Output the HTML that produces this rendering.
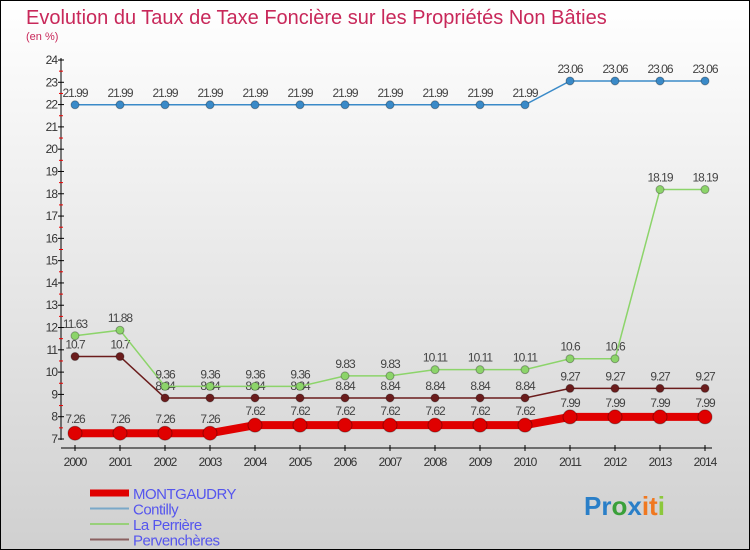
<!DOCTYPE html>
<html><head><meta charset="utf-8"><style>
body{margin:0}
#c{width:750px;height:550px;position:relative;box-sizing:border-box;border:1px solid #000;background:linear-gradient(#fff,#d0d0d0);font-family:"Liberation Sans",sans-serif;overflow:hidden}
</style></head><body>
<div id="c">
<svg id="s" width="750" height="550" style="position:absolute;left:-1px;top:-1px">
<text x="26" y="24" font-size="20" fill="#c8285a">Evolution du Taux de Taxe Foncière sur les Propriétés Non Bâties</text>
<text x="26" y="40" font-size="11" fill="#c8285a">(en %)</text>
<g id="axes"></g><g id="series"></g><g id="legend"></g>
<text x="584" y="515" font-size="26" font-weight="bold"><tspan fill="#2a7fc8">Pr</tspan><tspan fill="#3aa03a">o</tspan><tspan fill="#2a7fc8">x</tspan><tspan fill="#f07820">it</tspan><tspan fill="#8cc83c">i</tspan></text>
</svg>
</div>
<script>
const years=[2000,2001,2002,2003,2004,2005,2006,2007,2008,2009,2010,2011,2012,2013,2014];
const montgaudry=[7.26,7.26,7.26,7.26,7.62,7.62,7.62,7.62,7.62,7.62,7.62,7.99,7.99,7.99,7.99];
const contilly=[21.99,21.99,21.99,21.99,21.99,21.99,21.99,21.99,21.99,21.99,21.99,23.06,23.06,23.06,23.06];
const laPerriere=[11.63,11.88,9.36,9.36,9.36,9.36,9.83,9.83,10.11,10.11,10.11,10.6,10.6,18.19,18.19];
const pervencheres=[10.7,10.7,8.84,8.84,8.84,8.84,8.84,8.84,8.84,8.84,8.84,9.27,9.27,9.27,9.27];
const yTicks=[7,8,9,10,11,12,13,14,15,16,17,18,19,20,21,22,23,24];
const NS="http://www.w3.org/2000/svg";
const xs=i=>75+i*45, ys=v=>439-(v-7)*(379/17);
function mk(tag,attrs,parent){const e=document.createElementNS(NS,tag);for(const k in attrs)e.setAttribute(k,attrs[k]);parent.appendChild(e);return e;}
const ax=document.getElementById('axes');
let a=mk('line',{x1:61,y1:58,x2:61,y2:440,stroke:'#000'},ax);


a=mk('line',{x1:61,y1:448,x2:712,y2:448,stroke:'#000'},ax);


yTicks.forEach((t,i)=>{const y=ys(t);
 mk('line',{x1:58,y1:y,x2:64,y2:y,stroke:'#000'},ax);
 if(i<yTicks.length-1)mk('line',{x1:59,y1:ys(t+0.5),x2:63,y2:ys(t+0.5),stroke:'#e00'},ax);
 const tx=mk('text',{x:57,y:y+4,'font-size':12,'text-anchor':'end',fill:'#333','letter-spacing':'-1'},ax);tx.textContent=t;
 
 });
years.forEach((yr,i)=>{const x=xs(i);mk('line',{x1:x,y1:445,x2:x,y2:451,stroke:'#000'},ax);
 const tx=mk('text',{x:x,y:466,'font-size':12,'text-anchor':'middle',fill:'#333','letter-spacing':'-1'},ax);tx.textContent=yr;
 
 });
const sg=document.getElementById('series');
function series(data,color,w,r,name,labelDy){
 const g=mk('g',{},sg);
 
 
 mk('polyline',{points:data.map((v,i)=>xs(i)+','+ys(v)).join(' '),fill:'none',stroke:color,'stroke-width':w},g);
 data.forEach((v,i)=>{const p=mk('circle',{cx:xs(i),cy:ys(v),r:r,fill:color,stroke:'rgba(0,0,0,0.3)'},g);
  
  
  const t=mk('text',{x:xs(i),y:ys(v)+labelDy,'font-size':12,'text-anchor':'middle',fill:'#444','letter-spacing':'-1'},g);t.textContent=v;
  
  });
}
series(pervencheres,'#6b1c1c',1.5,4,'series-pervencheres',-8);
series(laPerriere,'#8cd46a',1.5,4,'series-la-perriere',-8);
series(contilly,'#3a8ac8',1.5,4,'series-contilly',-8);
series(montgaudry,'#e00000',8,7,'series-montgaudry',-10);
const lg=document.getElementById('legend');
const leg=[['MONTGAUDRY','#e00000',7],['Contilly','#7aa8c8',2],['La Perrière','#98d07a',2],['Pervenchères','#8a6060',2]];
leg.forEach((l,i)=>{const y=493+i*15.5;
 const g=mk('g',{},lg);
 
 
 mk('line',{x1:90,y1:y,x2:129,y2:y,stroke:l[1],'stroke-width':l[2]},g);
 const t=mk('text',{x:133,y:y+6,'font-size':15,fill:'#5555ee','letter-spacing':'-0.5'},g);t.textContent=l[0];});
</script>
</body></html>
